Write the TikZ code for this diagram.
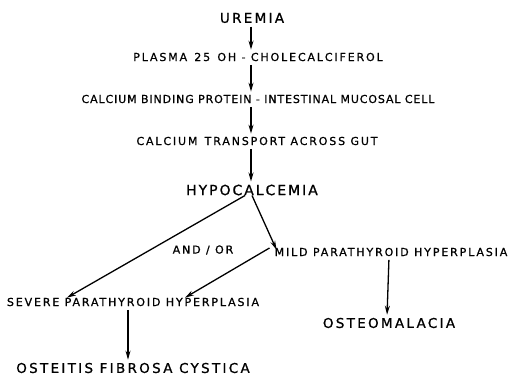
\documentclass[tikz,border=0pt]{standalone}
\usepackage{fontspec}
\setmainfont{DejaVu Sans}[LetterSpace=17,FakeBold=0.9]
\usetikzlibrary{arrows.meta}
\begin{document}
\begin{tikzpicture}[x=1pt,y=-1pt,
  lbl/.style={inner sep=1pt,font=\fontsize{11}{12}\selectfont},
  big/.style={inner sep=1pt,font=\fontsize{13.5}{15}\selectfont},
  arr/.style={line width=1.3pt,-{Stealth[length=9pt,width=5pt]}},
  varr/.style={arr,shorten <=2.5pt,shorten >=2pt}]
\useasboundingbox (0,0) rectangle (511,378);
\node[big] (uremia) at (252,18) {UREMIA};
\node[lbl] (plasma) at (258,57) {PLASMA\ \,25\ \,OH - CHOLECALCIFEROL};
\node[lbl,font=\fontsize{11}{12}\selectfont\addfontfeature{LetterSpace=8}] (cbp) at (258,99) {CALCIUM BINDING PROTEIN - INTESTINAL MUCOSAL CELL};
\node[lbl] (transport) at (257,141) {CALCIUM\ \,TRANSPORT ACROSS GUT};
\node[big,font=\fontsize{14}{16}\selectfont\addfontfeature{LetterSpace=14}] (hypo) at (252,190) {HYPOCALCEMIA};
\node[lbl] (andor) at (203,250) {AND / OR};
\node[lbl] (mild) at (391,252) {MILD PARATHYROID HYPERPLASIA};
\node[lbl] (severe) at (133,302) {SEVERE PARATHYROID HYPERPLASIA};
\node[big] (osteo) at (389,323) {OSTEOMALACIA};
\node[big] (osteitis) at (133,368) {OSTEITIS\ FIBROSA\ CYSTICA};
\coordinate (px) at (251,0);
\draw[varr] (uremia.south -| px) -- (plasma.north -| px);
\draw[varr] (plasma.south -| px) -- (cbp.north -| px);
\draw[varr] (cbp.south -| px) -- (transport.north -| px);
\draw[varr] (transport.south -| px) -- (hypo.north -| px);
\draw[arr] ([xshift=-7pt,yshift=1pt]hypo.south) -- ([xshift=-66pt,yshift=-1pt]severe.north);
\draw[arr] ([xshift=0pt,yshift=1pt]hypo.south) -- ([xshift=3pt,yshift=-3pt]mild.north west);
\draw[arr] ([xshift=-4pt,yshift=4pt]mild.west) -- ([xshift=52pt,yshift=-1pt]severe.north);
\draw[varr] ([xshift=-2pt]mild.south) -- ([xshift=-2pt]osteo.north);
\draw[varr] ([xshift=-5pt]severe.south) -- ([xshift=-5pt]osteitis.north);
\end{tikzpicture}
\end{document}
